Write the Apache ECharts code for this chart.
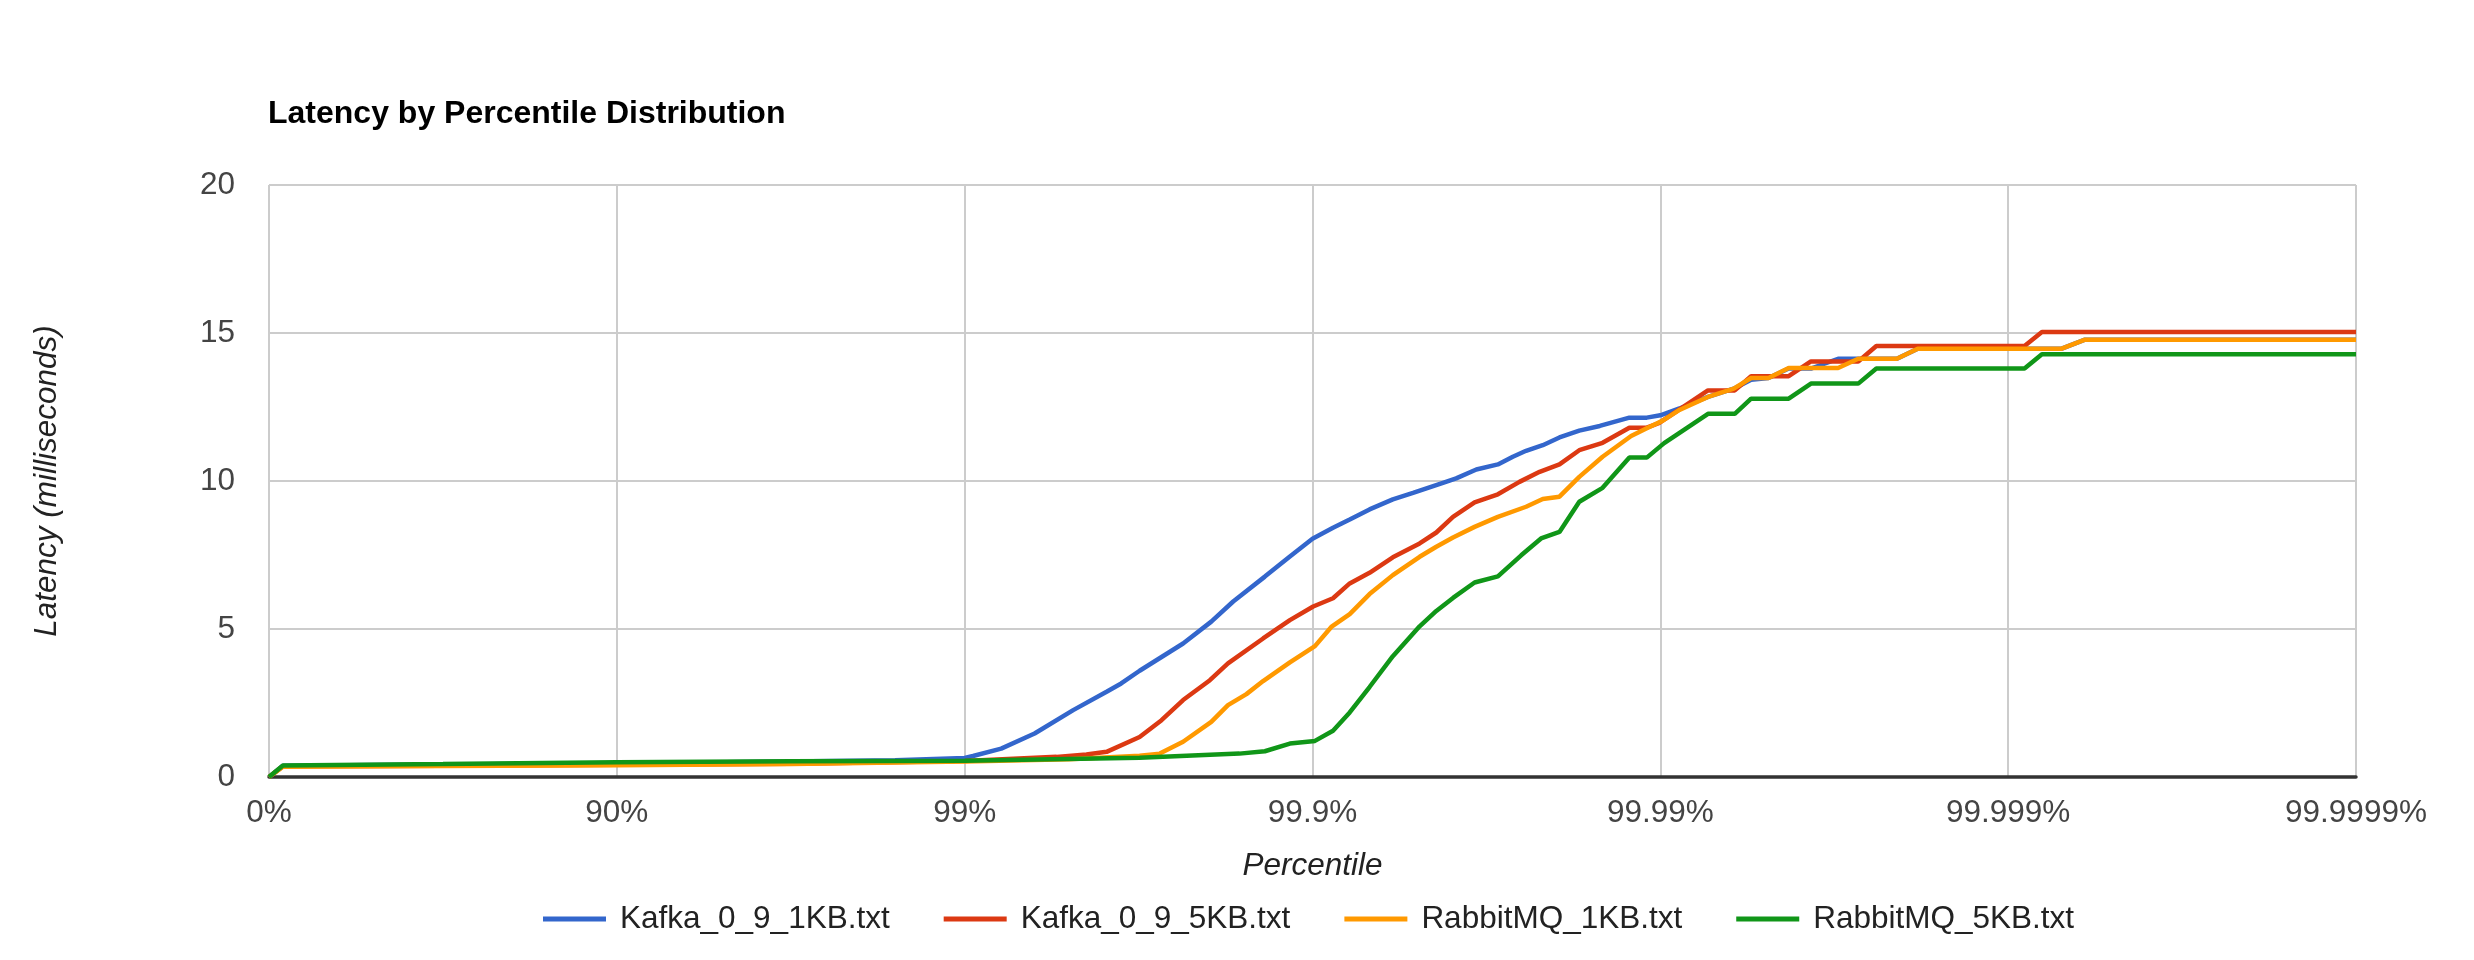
<!DOCTYPE html>
<html>
<head>
<meta charset="utf-8">
<script src="https://cdn.jsdelivr.net/npm/echarts@6/dist/echarts.min.js"></script>
<style>
html,body{margin:0;padding:0;background:#fff;}
#chart{width:2474px;height:960px;}
</style>
</head>
<body>
<div id="chart"></div>
<script>
// x positions are expressed in "nines": -log10(1 - percentile)
var xTickLabels = ['0%', '90%', '99%', '99.9%', '99.99%', '99.999%', '99.9999%'];
var seriesNames = ['Kafka_0_9_1KB.txt', 'Kafka_0_9_5KB.txt', 'RabbitMQ_1KB.txt', 'RabbitMQ_5KB.txt'];

var kafka1KB_x = [0, 0.04, 0.5, 1, 1.5, 1.8, 2.0, 2.024, 2.105, 2.201, 2.312, 2.408, 2.45, 2.503, 2.628, 2.709, 2.772, 2.863, 2.935, 3.0, 3.059, 3.107, 3.164, 3.231, 3.289, 3.375, 3.413, 3.471, 3.533, 3.576, 3.614, 3.662, 3.710, 3.767, 3.826, 3.911, 3.961, 4.0, 4.055, 4.137, 4.211, 4.261, 4.311, 4.369, 4.433, 4.511, 4.680, 4.740, 5.154, 5.219, 6.0];
var kafka1KB_y = [0, 0.38, 0.42, 0.46, 0.52, 0.57, 0.64, 0.71, 0.96, 1.47, 2.26, 2.88, 3.16, 3.59, 4.51, 5.25, 5.93, 6.77, 7.45, 8.05, 8.42, 8.70, 9.04, 9.38, 9.60, 9.94, 10.09, 10.39, 10.56, 10.82, 11.02, 11.21, 11.47, 11.70, 11.86, 12.14, 12.14, 12.22, 12.45, 12.84, 13.12, 13.42, 13.48, 13.80, 13.80, 14.13, 14.13, 14.47, 14.47, 14.77, 14.77];

var kafka5KB_x = [0, 0.04, 0.5, 1, 1.5, 2.0, 2.264, 2.35, 2.408, 2.503, 2.566, 2.628, 2.705, 2.757, 2.858, 2.935, 3.002, 3.059, 3.107, 3.164, 3.231, 3.308, 3.356, 3.404, 3.466, 3.533, 3.595, 3.653, 3.710, 3.767, 3.834, 3.911, 3.961, 3.997, 4.137, 4.214, 4.261, 4.369, 4.433, 4.569, 4.621, 5.047, 5.097, 6.0];
var kafka5KB_y = [0, 0.36, 0.38, 0.41, 0.45, 0.54, 0.68, 0.76, 0.85, 1.35, 1.92, 2.60, 3.27, 3.84, 4.68, 5.30, 5.76, 6.04, 6.54, 6.90, 7.42, 7.89, 8.26, 8.79, 9.28, 9.55, 9.97, 10.31, 10.56, 11.04, 11.29, 11.80, 11.80, 11.96, 13.06, 13.06, 13.54, 13.54, 14.04, 14.04, 14.56, 14.56, 15.03, 15.03];

var rabbit1KB_x = [0, 0.04, 0.5, 1, 1.5, 2.0, 2.3, 2.503, 2.561, 2.628, 2.709, 2.757, 2.81, 2.858, 2.935, 3.007, 3.054, 3.107, 3.164, 3.231, 3.308, 3.356, 3.404, 3.466, 3.533, 3.614, 3.662, 3.710, 3.767, 3.834, 3.916, 3.964, 4.007, 4.055, 4.137, 4.211, 4.261, 4.311, 4.369, 4.511, 4.569, 4.680, 4.740, 5.154, 5.219, 6.0];
var rabbit1KB_y = [0, 0.35, 0.37, 0.40, 0.44, 0.52, 0.60, 0.72, 0.79, 1.19, 1.86, 2.43, 2.80, 3.24, 3.87, 4.42, 5.07, 5.50, 6.18, 6.82, 7.44, 7.78, 8.09, 8.45, 8.79, 9.13, 9.39, 9.47, 10.14, 10.82, 11.52, 11.80, 12.04, 12.40, 12.84, 13.12, 13.48, 13.48, 13.82, 13.82, 14.13, 14.13, 14.47, 14.47, 14.77, 14.77];

var rabbit5KB_x = [0, 0.04, 0.5, 1, 1.5, 2.0, 2.503, 2.79, 2.863, 2.935, 3.007, 3.059, 3.107, 3.164, 3.231, 3.308, 3.356, 3.404, 3.466, 3.533, 3.600, 3.657, 3.710, 3.767, 3.834, 3.911, 3.961, 4.011, 4.137, 4.214, 4.261, 4.369, 4.433, 4.569, 4.621, 5.047, 5.097, 6.0];
var rabbit5KB_y = [0, 0.39, 0.44, 0.50, 0.53, 0.55, 0.65, 0.79, 0.87, 1.13, 1.22, 1.56, 2.18, 3.04, 4.08, 5.09, 5.61, 6.05, 6.57, 6.78, 7.49, 8.06, 8.28, 9.30, 9.77, 10.79, 10.79, 11.28, 12.27, 12.27, 12.78, 12.78, 13.29, 13.29, 13.80, 13.80, 14.28, 14.28];

var seriesColors = ['#3366cc', '#dc3912', '#ff9900', '#109618'];

function pairs(xs, ys) {
  var out = [];
  for (var i = 0; i < xs.length; i++) out.push([xs[i], ys[i]]);
  return out;
}
var seriesData = [
  pairs(kafka1KB_x, kafka1KB_y),
  pairs(kafka5KB_x, kafka5KB_y),
  pairs(rabbit1KB_x, rabbit1KB_y),
  pairs(rabbit5KB_x, rabbit5KB_y)
];

var FONT = 'Arial, "Liberation Sans", sans-serif';
var chart = echarts.init(document.getElementById('chart'));
chart.setOption({
  animation: false,
  backgroundColor: '#ffffff',
  color: seriesColors,
  title: {
    text: 'Latency by Percentile Distribution',
    left: 268,
    top: 98,
    padding: 0,
    textStyle: { fontFamily: FONT, fontSize: 32, fontWeight: 'bold', color: '#000' }
  },
  legend: {
    data: seriesNames,
    left: 543,
    top: 903,
    padding: 0,
    icon: 'rect',
    itemWidth: 63,
    itemHeight: 5,
    itemGap: 54,
    textStyle: { fontFamily: FONT, fontSize: 31.5, color: '#222', padding: [0, 0, 0, 9] }
  },
  grid: { left: 269, right: 118, top: 185, bottom: 183, containLabel: false },
  xAxis: {
    type: 'value',
    min: 0,
    max: 6,
    interval: 1,
    name: 'Percentile',
    nameLocation: 'middle',
    nameGap: 73,
    nameTextStyle: { fontFamily: FONT, fontSize: 31.5, fontStyle: 'italic', color: '#222' },
    axisLine: { show: true, onZero: true, lineStyle: { color: '#333', width: 3.5 } },
    axisTick: { show: false },
    axisLabel: {
      fontFamily: FONT, fontSize: 31.5, color: '#444', margin: 20,
      formatter: function (v) { return xTickLabels[Math.round(v)]; }
    },
    splitLine: { show: true, lineStyle: { color: '#cccccc', width: 2 } }
  },
  yAxis: {
    type: 'value',
    min: 0,
    max: 20,
    interval: 5,
    name: 'Latency (milliseconds)',
    nameLocation: 'middle',
    nameGap: 206,
    nameTextStyle: { fontFamily: FONT, fontSize: 31.5, fontStyle: 'italic', color: '#222' },
    axisLine: { show: false },
    axisTick: { show: false },
    axisLabel: { fontFamily: FONT, fontSize: 31.5, color: '#444', margin: 34 },
    splitLine: { show: true, lineStyle: { color: '#cccccc', width: 2 } }
  },
  series: seriesNames.map(function (name, i) {
    return {
      name: name,
      type: 'line',
      data: seriesData[i],
      showSymbol: false,
      symbol: 'none',
      lineStyle: { width: 4.5, color: seriesColors[i] },
      itemStyle: { color: seriesColors[i] }
    };
  })
});
</script>
</body>
</html>
